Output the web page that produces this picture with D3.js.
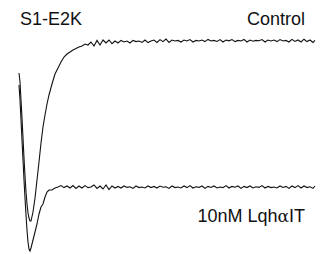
<!DOCTYPE html>
<html><head><meta charset="utf-8">
<script src="https://cdn.jsdelivr.net/npm/d3@7"></script>
<style>html,body{margin:0;padding:0;background:#fff;}svg{display:block;}</style>
</head><body>
<script>
// time (ms)
const time = [
  0, 0.1, 0.2, 0.3, 0.4, 0.5, 0.6, 0.7, 0.8, 0.9, 1.0, 1.1, 1.2,
  1.4, 1.6, 1.8, 2.0, 2.2, 2.4, 2.6, 2.8, 3.0,
  3.3, 3.6, 3.9, 4.2, 4.5, 4.8, 5.1, 5.4, 5.7, 6.0, 6.3, 6.6, 6.9,
  7.2, 7.5, 7.8, 8.1, 8.4, 8.7, 9.0, 9.3, 9.6, 9.9,
  10.2, 10.5, 10.8, 11.1, 11.4, 11.7, 12.0, 12.3, 12.6, 12.9,
  13.2, 13.5, 13.8, 14.1, 14.4, 14.7, 15.0, 15.3, 15.6, 15.9,
  16.2, 16.5, 16.8, 17.1, 17.4, 17.7, 18.0, 18.3, 18.6, 18.9,
  19.2, 19.5, 19.8, 20.1, 20.4, 20.7, 21.0, 21.3, 21.6, 21.9,
  22.2, 22.5, 22.8, 23.1, 23.4, 23.7, 24.0, 24.3, 24.6, 24.9,
  25.2, 25.5, 25.8, 26.1, 26.4, 26.7, 27.0, 27.3, 27.6, 27.9,
  28.2, 28.5, 28.8, 29.1, 29.4, 29.6
];
// current traces (arbitrary units, each relative to its own baseline)
const controlCurrent = [
  -1.55, -2.0, -2.9, -3.8, -4.8, -5.8, -6.7, -7.5, -8.1, -8.55, -8.8, -8.95, -8.95,
  -8.5, -7.8, -6.9, -6.0, -5.05, -4.25, -3.65, -3.1, -2.65,
  -2.1, -1.6, -1.3, -1.0, -0.75, -0.6, -0.5, -0.4, -0.33, -0.25, -0.2, -0.1, -0.15,
  0.0, -0.2, 0.08, -0.15, 0.1, -0.05, 0.1, -0.08, 0.05, -0.05,
  0.08, 0.0, 0.05, -0.05, 0.08, 0.02, 0.05, -0.02, 0.1, -0.03,
  0.05, 0.1, -0.02, 0.12, 0.02, 0.15, -0.02, 0.1, 0.05, 0.08,
  0.0, 0.1, 0.05, 0.12, 0.0, 0.08, 0.05, 0.1, 0.02, 0.13,
  0.05, 0.08, 0.03, 0.12, 0.0, 0.1, 0.06, 0.12, 0.02, 0.08,
  0.05, 0.13, 0.0, 0.1, 0.04, 0.08, 0.06, 0.12, 0.0, 0.1,
  0.05, 0.1, 0.02, 0.12, 0.05, 0.08, 0.0, 0.13, 0.03, 0.1,
  0.0, 0.14, 0.02, 0.1, -0.02, 0.08
];
const toxinCurrent = [
  5.15, 4.4, 3.4, 2.4, 1.4, 0.4, -0.5, -1.35, -2.1, -2.7, -3.05, -3.15, -3.0,
  -2.6, -2.2, -1.8, -1.3, -0.95, -0.8, -0.45, -0.2, -0.1,
  -0.1, 0.0, 0.05, 0.12, 0.02, 0.1, 0.0, 0.12, -0.02, 0.1, 0.0, 0.12, 0.02,
  0.05, 0.15, -0.02, 0.1, -0.05, 0.15, -0.08, 0.1, 0.0, 0.08,
  0.0, 0.1, 0.03, 0.06, -0.02, 0.1, 0.02, 0.05, 0.0, 0.1,
  0.02, 0.08, 0.0, 0.1, 0.04, 0.06, -0.02, 0.1, 0.02, 0.05,
  0.0, 0.1, 0.02, 0.12, 0.0, 0.06, 0.03, 0.1, -0.02, 0.08,
  0.03, 0.1, 0.0, 0.05, 0.02, 0.12, 0.0, 0.08, 0.04, 0.1,
  -0.02, 0.08, 0.02, 0.1, 0.0, 0.06, 0.03, 0.12, 0.0, 0.08,
  0.02, 0.05, 0.0, 0.1, 0.03, 0.08, -0.02, 0.1, 0.02, 0.12,
  0.0, 0.1, 0.02, 0.06, -0.02, 0.1
];
const titleLabel = "S1-E2K";
const traceLabels = ["Control", "10nM Lqh", "\u03B1", "IT"];

const W = 321, H = 254;
const svg = d3.select("body").append("svg").attr("width", W).attr("height", H);

const x = d3.scaleLinear().domain([0, 29.6]).range([19, 315]);
const yControl = d3.scaleLinear().domain([-9, 0]).range([222, 42]);
const yToxin = d3.scaleLinear().domain([-9, 0]).range([368, 188]);

const lineFor = (yScale, vals) => d3.line()
  .x((d, i) => x(time[i]))
  .y((d, i) => yScale(vals[i]))
  .curve(d3.curveLinear)(vals);

svg.append("path").attr("d", lineFor(yControl, controlCurrent))
  .attr("fill", "none").attr("stroke", "#111").attr("stroke-width", 1.1);
svg.append("path").attr("d", lineFor(yToxin, toxinCurrent))
  .attr("fill", "none").attr("stroke", "#111").attr("stroke-width", 1.1);

const font = "'Liberation Sans', Arial, sans-serif";
svg.append("text").attr("x", 20).attr("y", 25).text(titleLabel)
  .attr("font-family", font).attr("font-size", 18).attr("fill", "#111");
svg.append("text").attr("x", 305).attr("y", 25).attr("text-anchor", "end").text(traceLabels[0])
  .attr("font-family", font).attr("font-size", 18).attr("fill", "#111");
const t2 = svg.append("text").attr("x", 305).attr("y", 222).attr("text-anchor", "end")
  .attr("font-family", font).attr("font-size", 18).attr("fill", "#111");
t2.append("tspan").text(traceLabels[1]);
t2.append("tspan").attr("font-family", "'DejaVu Serif', serif").attr("font-size", 17).text(traceLabels[2]);
t2.append("tspan").text(traceLabels[3]);
</script>
</body></html>
